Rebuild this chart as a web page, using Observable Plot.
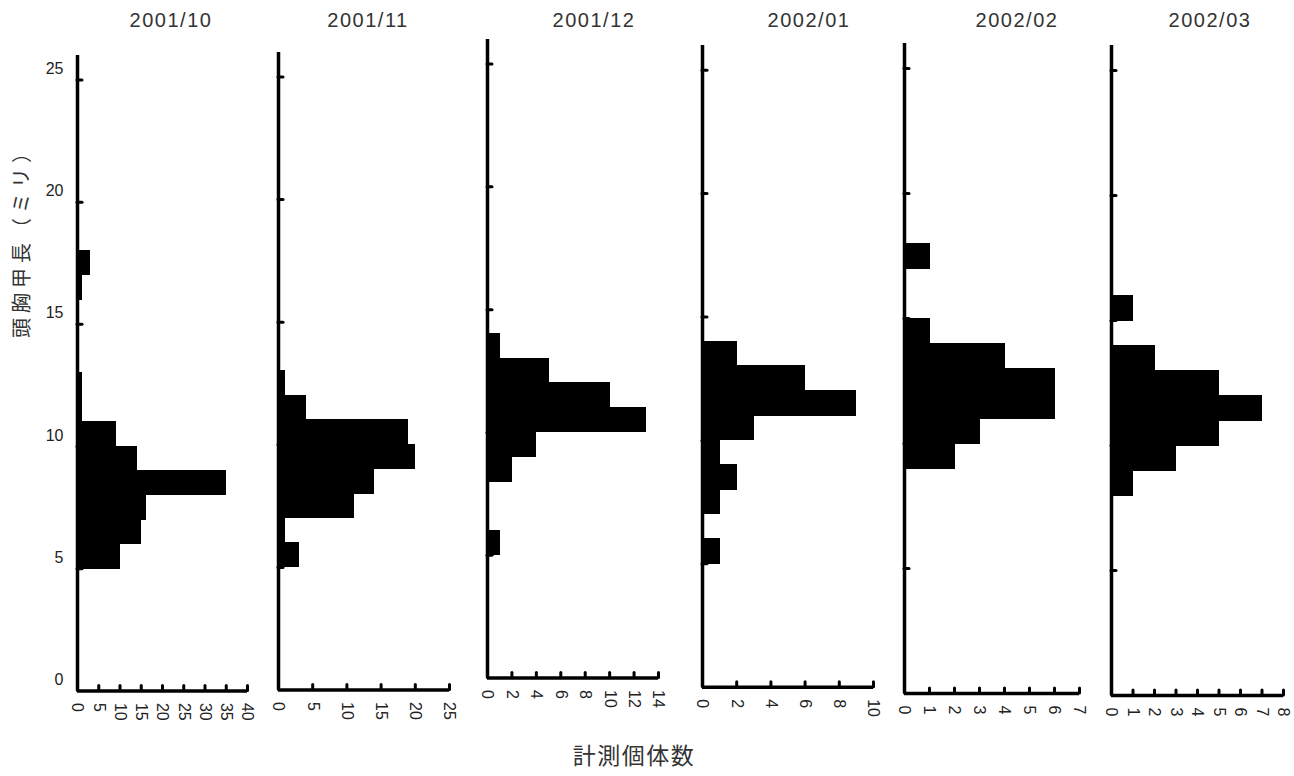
<!DOCTYPE html>
<html lang="ja">
<head>
<meta charset="utf-8">
<script src="https://cdn.jsdelivr.net/npm/d3@7"></script>
<script src="https://cdn.jsdelivr.net/npm/@observablehq/plot@0.6"></script>
<style>
  html, body { margin: 0; padding: 0; background: #fff; }
  #chart { position: relative; width: 1294px; height: 776px; overflow: hidden; background: #fff; color: #222; }
  #chart svg { position: absolute; overflow: visible; background: transparent; }
  .title { position: absolute; font: 20px "Liberation Sans", Arial, sans-serif; letter-spacing: 1.5px; color: #333; transform: translate(-50%, -50%); white-space: nowrap; }
  .ylab { position: absolute; font: 20px "Noto Sans CJK JP", sans-serif; letter-spacing: 5px; color: #333; white-space: nowrap; transform: translate(-50%, -50%) rotate(-90deg); }
  .xlab { position: absolute; font: 23px "Noto Sans CJK JP", sans-serif; letter-spacing: 1.5px; color: #333; white-space: nowrap; transform: translate(-50%, -50%); }
</style>
</head>
<body>
<div id="chart"></div>
<script>
// Sampling months, one panel each
const months = ["2001/10", "2001/11", "2001/12", "2002/01", "2002/02", "2002/03"];

// Lower edges of the 1 mm carapace-length classes
const binStarts = [5, 6, 7, 8, 9, 10, 11, 12, 13, 14, 15, 16, 17];

// Number of individuals measured in each class, per month
const counts200110 = [10, 15, 16, 35, 14, 9, 1, 1, 0, 0, 0, 1, 3];
const counts200111 = [3, 1, 11, 14, 20, 19, 4, 1, 0, 0, 0, 0, 0];
const counts200112 = [1, 0, 0, 2, 4, 13, 10, 5, 1, 0, 0, 0, 0];
const counts200201 = [1, 0, 1, 2, 1, 3, 9, 6, 2, 0, 0, 0, 0];
const counts200202 = [0, 0, 0, 0, 2, 3, 6, 6, 4, 1, 0, 0, 1];
const counts200203 = [0, 0, 0, 1, 3, 5, 7, 5, 2, 0, 1, 0, 0];
const monthlyCounts = [counts200110, counts200111, counts200112, counts200201, counts200202, counts200203];

// Count-axis ticks per panel
const xTicks200110 = [0, 5, 10, 15, 20, 25, 30, 35, 40];
const xTicks200111 = [0, 5, 10, 15, 20, 25];
const xTicks200112 = [0, 2, 4, 6, 8, 10, 12, 14];
const xTicks200201 = [0, 2, 4, 6, 8, 10];
const xTicks200202 = [0, 1, 2, 3, 4, 5, 6, 7];
const xTicks200203 = [0, 1, 2, 3, 4, 5, 6, 7, 8];
const monthlyXTicks = [xTicks200110, xTicks200111, xTicks200112, xTicks200201, xTicks200202, xTicks200203];

// Length-axis ticks (mm) and extent
const yTicks = [0, 5, 10, 15, 20, 25];
const yMax = 26;

const yTitle = "頭胸甲長（ミリ）";
const xTitle = "計測個体数";

// Page layout of each panel frame (pixels): x of zero, x of axis end, y of zero
const frames = [
  {x0: 77,   x1: 247,  y0: 690, pxPerMm: 24.44, titleX: 171},
  {x0: 278,  x1: 449,  y0: 690, pxPerMm: 24.52, titleX: 368},
  {x0: 487,  x1: 658,  y0: 678, pxPerMm: 24.56, titleX: 594},
  {x0: 702,  x1: 873,  y0: 687, pxPerMm: 24.68, titleX: 809},
  {x0: 904,  x1: 1079, y0: 693, pxPerMm: 25.0,  titleX: 1017},
  {x0: 1111, x1: 1283, y0: 695, pxPerMm: 25.0,  titleX: 1210}
];

const chart = document.getElementById("chart");
const M = {left: 40, right: 15, top: 10, bottom: 40};

months.forEach((month, i) => {
  const f = frames[i];
  const ticks = monthlyXTicks[i];
  const xMax = ticks[ticks.length - 1];
  const rows = binStarts
    .map((b, j) => ({lo: b, hi: b + 1, n: monthlyCounts[i][j]}))
    .filter(d => d.n > 0);
  const innerH = f.pxPerMm * yMax;
  const innerW = f.x1 - f.x0;

  const marks = [
    Plot.rect(rows, {x1: 0, x2: "n", y1: "lo", y2: "hi", fill: "black", stroke: "black", strokeWidth: 1, shapeRendering: "crispEdges"}),
    Plot.ruleX([0], {y1: 0, y2: yMax, stroke: "black", strokeWidth: 3.5}),
    Plot.ruleY([0], {x1: 0, x2: xMax, stroke: "black", strokeWidth: 3.5}),
    Plot.axisY(yTicks.slice(1), {tickSize: -5, fill: "none", stroke: "black", strokeWidth: 3, strokeLinecap: "round", label: null}),
    Plot.axisX(ticks, {tickSize: -5, fill: "none", stroke: "black", strokeWidth: 3, strokeLinecap: "round", label: null}),
    Plot.axisX(ticks, {tickSize: 0, tickPadding: 12, tickRotate: 90, fontSize: 16, fill: "#222", label: null})
  ];
  if (i === 0) {
    marks.push(Plot.axisY(yTicks, {tickSize: 0, tickPadding: 14, dy: -11, fontSize: 16, fill: "#222", label: null}));
  }

  const svg = Plot.plot({
    width: M.left + innerW + M.right,
    height: M.top + innerH + M.bottom,
    marginLeft: M.left,
    marginRight: M.right,
    marginTop: M.top,
    marginBottom: M.bottom,
    style: {fontFamily: "'Liberation Sans', Arial, sans-serif", background: "transparent", overflow: "visible"},
    x: {domain: [0, xMax]},
    y: {domain: [0, yMax]},
    marks
  });
  svg.style.left = (f.x0 - M.left) + "px";
  svg.style.top = (f.y0 - innerH - M.top) + "px";
  chart.appendChild(svg);

  const t = document.createElement("div");
  t.className = "title";
  t.textContent = month;
  t.style.left = f.titleX + "px";
  t.style.top = "20px";
  chart.appendChild(t);
});

const yl = document.createElement("div");
yl.className = "ylab";
yl.textContent = yTitle;
yl.style.left = "20px";
yl.style.top = "238px";
chart.appendChild(yl);

const xl = document.createElement("div");
xl.className = "xlab";
xl.textContent = xTitle;
xl.style.left = "634px";
xl.style.top = "754px";
chart.appendChild(xl);
</script>
</body>
</html>
